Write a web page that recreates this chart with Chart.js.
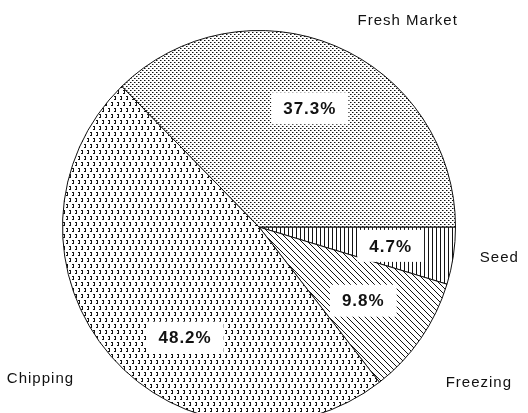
<!DOCTYPE html>
<html>
<head>
<meta charset="utf-8">
<script src="https://cdn.jsdelivr.net/npm/chart.js@4"></script>
<style>
  html, body { margin: 0; padding: 0; background: #fff; overflow: hidden; }
</style>
</head>
<body>
<canvas id="pie" width="528" height="440"></canvas>
<script>
// slices in clockwise order, starting at 3 o'clock
const labels = ['Seed', 'Freezing', 'Chipping', 'Fresh Market'];
const shares = [4.7, 9.8, 48.2, 37.3];
const pctLabels = ['4.7%', '9.8%', '48.2%', '37.3%'];

// small tile patterns like the old plotter fills
function makePattern(w, h, draw) {
  const c = document.createElement('canvas');
  c.width = w; c.height = h;
  const g = c.getContext('2d');
  g.fillStyle = '#fff';
  g.fillRect(0, 0, w, h);
  g.fillStyle = '#111';
  draw(g);
  return g.createPattern(c, 'repeat');
}

const seedFill = makePattern(4, 4, g => {
  g.fillRect(0, 0, 1, 4);
});
const freezeFill = makePattern(6, 6, g => {
  for (let i = 0; i < 6; i++) g.fillRect(i, i, 1, 1);
});
const chipFill = makePattern(6, 12, g => {
  [[0, 0], [3, 6]].forEach(([x, y]) => {
    g.fillRect(x, y, 2, 1);
    g.fillRect(x + 1, y + 1, 1, 2);
    g.fillRect(x, y + 3, 2, 1);
  });
});
const freshFill = makePattern(4, 4, g => {
  g.fillRect(0, 0, 1, 1);
  g.fillRect(2, 2, 1, 1);
  g.fillStyle = '#888';
  g.fillRect(1, 0, 1, 1);
  g.fillRect(3, 2, 1, 1);
});

// where the texts sit: angle offset (deg) and distance in radii
const pctPos = [[-0.3, 0.677], [0.7, 0.65], [-15.2, 0.677], [0.3, 0.657]];
const namePos = [[-1.2, 1.233], [0.7, 1.37], [6.2, 1.355], [12.9, 1.295]];

const pieLabels = {
  id: 'pieLabels',
  afterDatasetsDraw(chart) {
    const ctx = chart.ctx;
    const arcs = chart.getDatasetMeta(0).data;
    ctx.save();
    ctx.textAlign = 'center';
    ctx.textBaseline = 'middle';
    arcs.forEach((arc, i) => {
      const mid = (arc.startAngle + arc.endAngle) / 2;
      let a = mid + pctPos[i][0] * Math.PI / 180;
      let r = arc.outerRadius * pctPos[i][1];
      let x = arc.x + Math.cos(a) * r;
      let y = arc.y + Math.sin(a) * r;
      ctx.font = 'bold 17px "Liberation Sans", Arial, sans-serif';
      ctx.letterSpacing = '1px';
      const w = ctx.measureText(pctLabels[i]).width;
      ctx.fillStyle = '#fff';
      ctx.fillRect(x - w / 2 - 12, y - 16, w + 24, 32);
      ctx.fillStyle = '#111';
      ctx.fillText(pctLabels[i], x, y + 1);

      a = mid + namePos[i][0] * Math.PI / 180;
      r = arc.outerRadius * namePos[i][1];
      x = arc.x + Math.cos(a) * r;
      y = arc.y + Math.sin(a) * r;
      ctx.font = '15px "Liberation Sans", Arial, sans-serif';
      ctx.letterSpacing = '1px';
      ctx.fillText(labels[i], x, y);
    });
    ctx.restore();
  }
};

new Chart(document.getElementById('pie'), {
  type: 'pie',
  data: {
    labels: labels,
    datasets: [{
      data: shares,
      backgroundColor: [seedFill, freezeFill, chipFill, freshFill],
      borderColor: '#111',
      borderWidth: 1
    }]
  },
  options: {
    responsive: false,
    animation: false,
    rotation: 90,
    layout: {
      padding: { top: 30, bottom: 16, left: 62, right: 72 }
    },
    plugins: {
      legend: { display: false },
      tooltip: { enabled: false }
    }
  },
  plugins: [pieLabels]
});
</script>
</body>
</html>
